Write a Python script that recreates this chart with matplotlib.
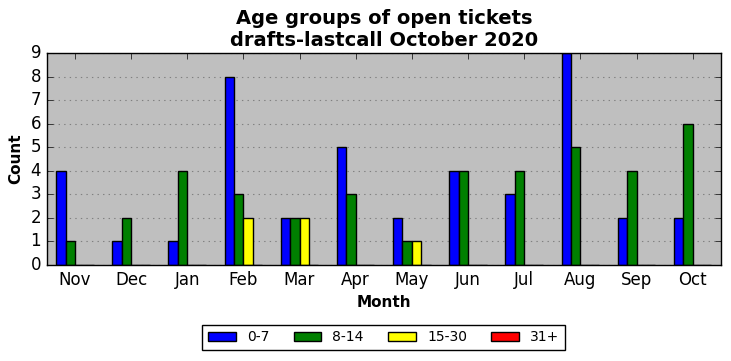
import numpy as np
import matplotlib
matplotlib.use("Agg")
import matplotlib.pyplot as plt

plt.style.use("classic")

months = ["Nov", "Dec", "Jan", "Feb", "Mar", "Apr", "May", "Jun", "Jul", "Aug", "Sep", "Oct"]
age_0_7 = [4, 1, 1, 8, 2, 5, 2, 4, 3, 9, 2, 2]
age_8_14 = [1, 2, 4, 3, 2, 3, 1, 4, 4, 5, 4, 6]
age_15_30 = [0, 0, 0, 2, 2, 0, 1, 0, 0, 0, 0, 0]
age_31_plus = [0, 0, 0, 0, 0, 0, 0, 0, 0, 0, 0, 0]

series = [("0-7", age_0_7, "blue"), ("8-14", age_8_14, "green"),
          ("15-30", age_15_30, "yellow"), ("31+", age_31_plus, "red")]

fig = plt.figure(figsize=(7.31, 3.61), dpi=100, facecolor="white")
ax = fig.add_axes([0.064, 0.266, 0.922, 0.587])
ax.set_facecolor("#bfbfbf")

x = np.arange(len(months))
w = 1 / 6
for i, (label, vals, color) in enumerate(series):
    ax.bar(x - 2 * w + i * w, vals, width=w, align="edge", color=color,
           edgecolor="black", linewidth=1, label=label)

ax.set_xlim(-0.5, 11.5)
ax.set_ylim(0, 9)
ax.set_yticks(range(0, 10))
ax.set_xticks(x)
ax.set_xticklabels(months)
ax.yaxis.grid(True, color="gray", linestyle=":", linewidth=0.8)
ax.set_axisbelow(True)
ax.tick_params(labelsize=12)

ax.set_xlabel("Month", fontsize=11, fontweight="bold")
ax.set_ylabel("Count", fontsize=11, fontweight="bold")
ax.set_title("Age groups of open tickets\ndrafts-lastcall October 2020",
             fontsize=14, fontweight="bold")

ax.legend(loc="upper center", bbox_to_anchor=(0.5, -0.25), ncol=4,
          fontsize=10, frameon=True, fancybox=False, columnspacing=1.75)

fig.savefig("out.png", dpi=100, facecolor="white")
